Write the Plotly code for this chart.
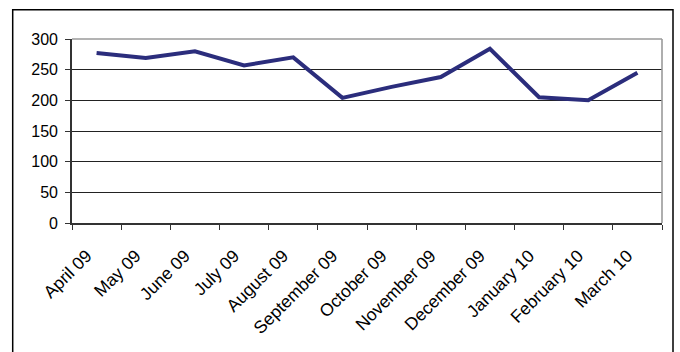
import plotly.graph_objects as go

months = ["April 09", "May 09", "June 09", "July 09", "August 09", "September 09",
          "October 09", "November 09", "December 09", "January 10", "February 10", "March 10"]
values = [277, 269, 280, 257, 270, 204, 222, 238, 284, 205, 200, 245]
y_ticks = [0, 50, 100, 150, 200, 250, 300]

W, H = 680, 352
L, R, T, B = 72, 18, 39, 129
pw, ph = W - L - R, H - T - B

def px_x(x):
    return (x - L) / pw

def px_y(y):
    return (H - B - y) / ph

fig = go.Figure()
fig.add_trace(go.Scatter(
    x=months, y=values, mode="lines",
    line=dict(color="#2b2d7c", width=4),
    hoverinfo="x+y", showlegend=False,
))

yfont = dict(family="Liberation Sans, Arial, sans-serif", size=16, color="#000000")
xfont = dict(family="Liberation Sans, Arial, sans-serif", size=17.5, color="#000000")

fig.update_layout(
    width=W, height=H,
    margin=dict(l=L, r=R, t=T, b=B, pad=0),
    paper_bgcolor="white", plot_bgcolor="white",
    font=yfont,
    xaxis=dict(
        type="category", range=[-0.5, 11.5], tickson="boundaries",
        ticks="outside", ticklen=5, tickwidth=1.2, tickcolor="#333333",
        showline=True, linecolor="#333333", linewidth=1.6,
        showgrid=False, tickangle=-45, tickfont=xfont, fixedrange=True,
        ticklabelstandoff=14, ticklabelshift=-10,
    ),
    yaxis=dict(
        range=[0, 300], tickvals=y_ticks, ticks="outside", ticklen=5,
        tickwidth=1.2, tickcolor="#333333",
        showline=True, linecolor="#333333", linewidth=1.6,
        showgrid=True, gridcolor="#222222", gridwidth=1,
        zeroline=False, tickfont=yfont, fixedrange=True,
        ticklabelstandoff=4,
    ),
    shapes=[
        dict(type="line", xref="paper", yref="paper", x0=0, x1=1, y0=1, y1=1,
             line=dict(color="#9a9a9a", width=1.6), layer="above"),
        dict(type="line", xref="paper", yref="paper", x0=1, x1=1, y0=0, y1=1,
             line=dict(color="#9a9a9a", width=1.6), layer="above"),
        dict(type="rect", xref="paper", yref="paper",
             x0=px_x(12.7), x1=px_x(673), y0=px_y(400), y1=px_y(9.7),
             line=dict(color="#000000", width=1.5), layer="above"),
    ],
)

fig.write_html("out.html")
